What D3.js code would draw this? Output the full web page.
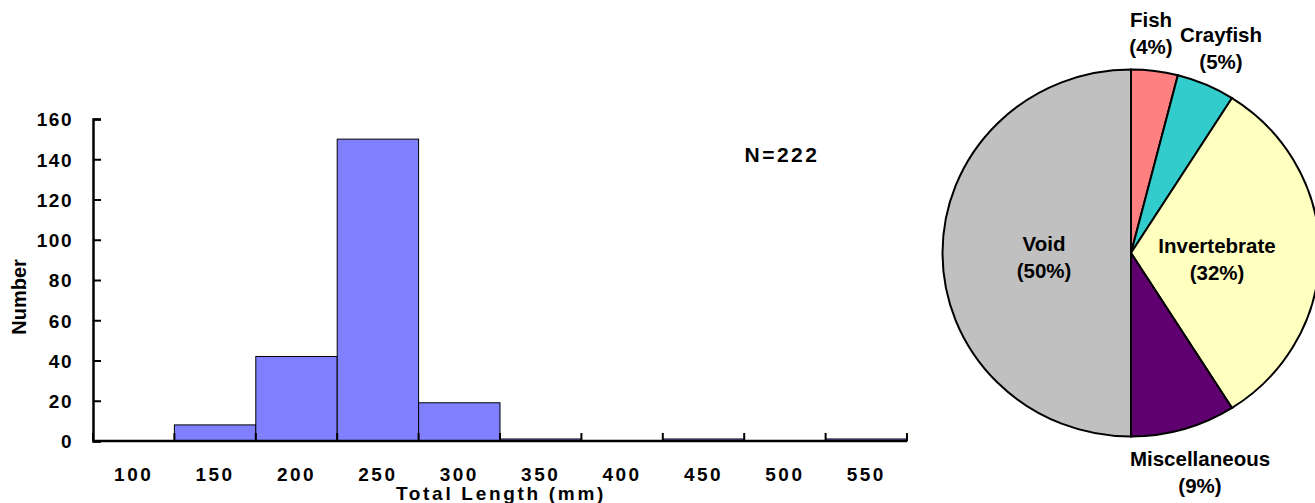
<!DOCTYPE html>
<html>
<head>
<script src="https://d3js.org/d3.v7.min.js"></script>
<style>
  body { margin: 0; background: #fff; }
  svg text { font-family: Arial, "Liberation Sans", sans-serif; font-weight: bold; fill: #000; }
</style>
</head>
<body>
<svg id="chart" width="1315" height="503"></svg>
<script>
// histogram data (bin labels are bin centres, mm)
const bins = [100, 150, 200, 250, 300, 350, 400, 450, 500, 550];
const counts = [0, 8, 42, 150, 19, 1, 0, 1, 0, 1];
const yTicks = [0, 20, 40, 60, 80, 100, 120, 140, 160];
const totalN = 222;

// diet pie data
const dietNames = ["Fish", "Crayfish", "Invertebrate", "Miscellaneous", "Void"];
const dietPct = [4, 5, 32, 9, 50];
const dietColors = ["#ff8080", "#33cccc", "#ffffc0", "#600070", "#c0c0c0"];

const svg = d3.select("#chart");

// ---- histogram ----
const plotL = 93, plotR = 907, plotT = 119, plotB = 441;
const x = d3.scaleBand().domain(bins).range([plotL, plotR]).padding(0);
const y = d3.scaleLinear().domain([0, 160]).range([plotB, plotT]);

svg.selectAll("rect.bar").data(bins)
  .join("rect")
  .attr("class", "bar")
  .attr("x", d => x(d))
  .attr("y", (d, i) => y(counts[i]))
  .attr("width", x.bandwidth())
  .attr("height", (d, i) => plotB - y(counts[i]))
  .attr("fill", "#8080ff")
  .attr("stroke", (d, i) => counts[i] > 0 ? "#000" : "none")
  .attr("stroke-width", 1);

// y axis
const yAxis = svg.append("g").attr("transform", `translate(${plotL},0)`)
  .call(d3.axisLeft(y).tickValues(yTicks).tickSize(-8).tickPadding(20));
yAxis.select(".domain").attr("stroke-width", 2.5);
yAxis.selectAll(".tick line").attr("stroke-width", 2);
yAxis.selectAll("text").attr("font-size", 19).attr("dy", "0.36em").style("letter-spacing", "1.5px");

// x axis: ticks at bin edges, labels at bin centres
const edges = bins.map(b => x(b)).concat([plotR]);
svg.append("line").attr("x1", plotL).attr("x2", plotR)
  .attr("y1", plotB).attr("y2", plotB)
  .attr("stroke", "#000").attr("stroke-width", 2.5);
svg.selectAll("line.xtick").data(edges)
  .join("line").attr("class", "xtick")
  .attr("x1", d => d).attr("x2", d => d)
  .attr("y1", plotB).attr("y2", plotB - 8)
  .attr("stroke", "#000").attr("stroke-width", 2);
svg.selectAll("text.xlab").data(bins)
  .join("text").attr("class", "xlab")
  .attr("x", d => x(d) + x.bandwidth() / 2)
  .attr("y", 481)
  .attr("text-anchor", "middle")
  .attr("font-size", 19)
  .style("letter-spacing", "2.5px")
  .text(d => d);

svg.append("text")
  .attr("x", 501).attr("y", 500)
  .attr("text-anchor", "middle")
  .attr("font-size", 19)
  .style("letter-spacing", "2.7px")
  .text("Total Length (mm)");

svg.append("text")
  .attr("transform", "translate(26,297) rotate(-90)")
  .attr("text-anchor", "middle")
  .attr("font-size", 20)
  .text("Number");

svg.append("text")
  .attr("x", 782).attr("y", 162)
  .attr("text-anchor", "middle")
  .attr("font-size", 21)
  .style("letter-spacing", "2.5px")
  .text("N=" + totalN);

// ---- pie (Excel draws it slightly stretched horizontally) ----
const cx = 1131, cy = 253, ry = 183.5, rx = 188.5;
const pie = d3.pie().sort(null).value(d => d)(dietPct);
const arc = d3.arc().innerRadius(0).outerRadius(ry);
const pg = svg.append("g").attr("transform", `translate(${cx},${cy}) scale(${rx / ry},1)`);
pg.selectAll("path").data(pie)
  .join("path")
  .attr("d", arc)
  .attr("fill", (d, i) => dietColors[i])
  .attr("stroke", "#000")
  .attr("stroke-width", 2)
  .attr("vector-effect", "non-scaling-stroke");

// label positions relative to pie centre
const labelPos = [[20, -226], [90, -211], [86, 0], [69, 213], [-87, -2]];
const lg = svg.append("g").attr("transform", `translate(${cx},${cy})`);
dietNames.forEach((name, i) => {
  const t = lg.append("text")
    .attr("text-anchor", "middle")
    .attr("font-size", 20.5)
    .attr("x", labelPos[i][0]).attr("y", labelPos[i][1]);
  t.append("tspan").attr("x", labelPos[i][0]).text(name);
  t.append("tspan").attr("x", labelPos[i][0]).attr("dy", 27).text("(" + dietPct[i] + "%)");
});
</script>
</body>
</html>
